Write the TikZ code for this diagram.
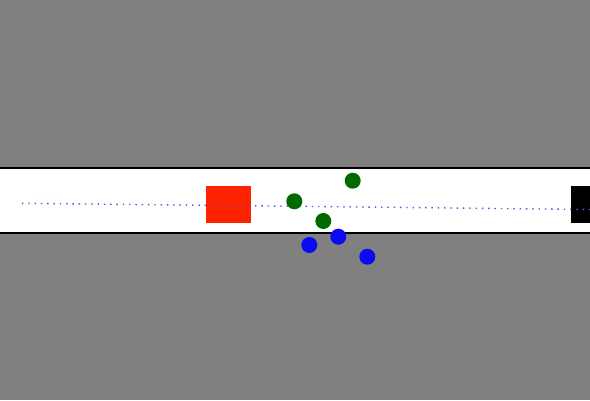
\documentclass[tikz,border=0pt]{standalone}
\usepackage{tikz}
\usetikzlibrary{calc}
\usepackage{xcolor}
\definecolor{bgclr}{RGB}{128, 128, 128}
\definecolor{carred}{RGB}{255, 34, 0}
\definecolor{ptgreen}{RGB}{0, 105, 0}
\definecolor{ptblue}{RGB}{10, 10, 245}
\definecolor{pathclr}{RGB}{85, 85, 215}
\tikzset{
  % Lane
  lanefill/.style  = {fill=white},
  laneedge/.style  = {draw=black, line width=1.5pt},
  % Objects
  carbox/.style    = {fill=carred},
  goalbox/.style   = {fill=black},
  % Path
  pathline/.style  = {draw=pathclr, line width=1.4pt, dash pattern=on 1.4pt off 4.9pt},
  % Points
  greenpt/.style   = {circle, fill=ptgreen, inner sep=0pt, minimum size=16pt},
  bluept/.style    = {circle, fill=ptblue,  inner sep=0pt, minimum size=16pt},
}
\begin{document}
\begin{tikzpicture}[x=1pt, y=-1pt]
  % Background
  \fill[bgclr] (0,0) rectangle (590,400);
  \useasboundingbox (0,0) rectangle (590,400);
  % Lane
  \fill[lanefill] (0,168) rectangle (590,233);
  \draw[laneedge] (0,168) -- (590,168);
  \draw[laneedge] (0,233) -- (590,233);
  % Car and goal
  \fill[carbox] (205.7,185.7) rectangle (251,223.3);
  \fill[goalbox] (570.5,185.7) rectangle (592,223.3);
  % Planned path
  \coordinate (start) at (22,203.3);
  \coordinate (stop) at (590,209.5);
  \draw[pathline] (start) -- (stop);
  % Green points
  \node[greenpt] (g1) at (294.3,201.3) {};
  \node[greenpt] (g2) at (352.7,180.7) {};
  \node[greenpt] (g3) at (323.3,221) {};
  % Blue points
  \node[bluept] (b1) at (309.3,245) {};
  \node[bluept] (b2) at (338.3,236.7) {};
  \node[bluept] (b3) at (367.3,256.7) {};
\end{tikzpicture}
\end{document}
